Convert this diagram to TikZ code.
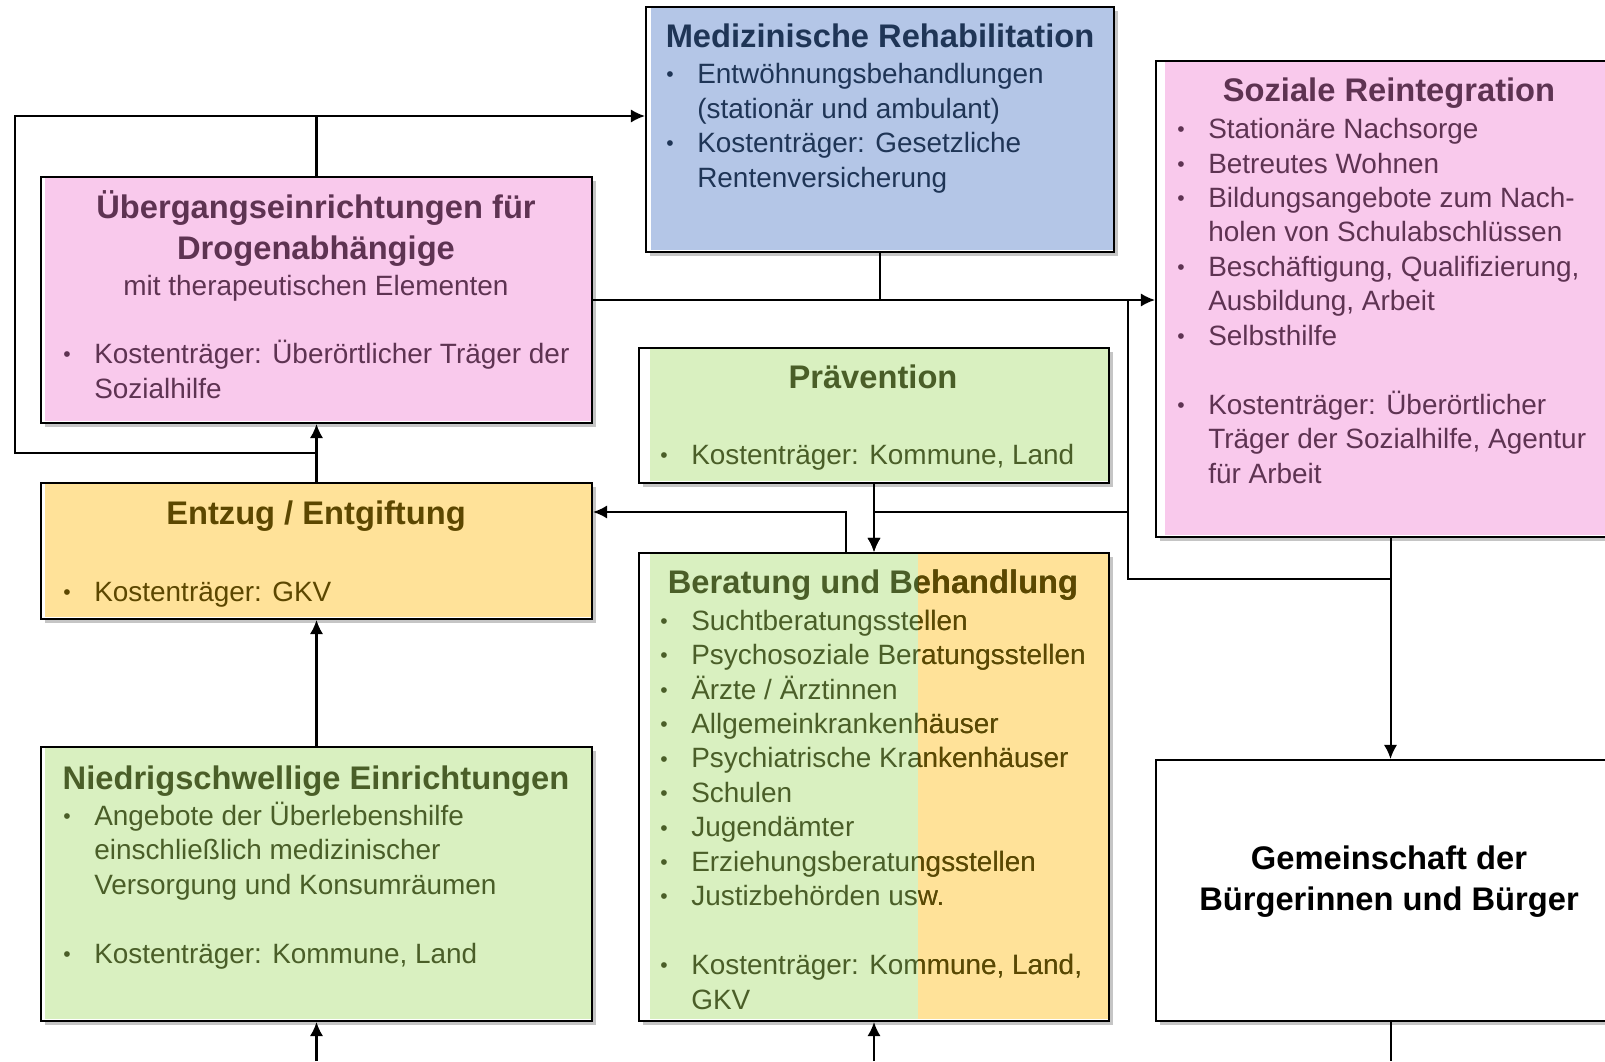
\documentclass[tikz,border=0pt]{standalone}
\usepackage{fontspec}
\setmainfont{Liberation Sans}
\usetikzlibrary{fit,shadows,arrows.meta}
\definecolor{medfill}{HTML}{B4C6E7}
\definecolor{medtxt}{HTML}{1F3556}
\definecolor{pinkfill}{HTML}{F9C9EC}
\definecolor{pinktxt}{HTML}{5E3352}
\definecolor{yelfill}{HTML}{FFE299}
\definecolor{yeltxt}{HTML}{5C4700}
\definecolor{grnfill}{HTML}{D9F0C0}
\definecolor{grntxt}{HTML}{4A5E28}
\newcommand\bul{\makebox[17.6pt][l]{\raisebox{1pt}{\fontsize{12}{12}\selectfont\textbullet}}}
\newcommand\ind{\hspace*{17.6pt}}
\newcommand\berlines{\bul Suchtberatungsstellen\\ \bul Psychosoziale Beratungsstellen\\ \bul Ärzte / Ärztinnen\\ \bul Allgemeinkrankenhäuser\\ \bul Psychiatrische Krankenhäuser\\ \bul Schulen\\ \bul Jugendämter\\ \bul Erziehungsberatungsstellen\\ \bul Justizbehörden usw.\\[19.6pt] \bul Kostenträger: Kommune, Land,\\ \ind GKV}
\tikzset{
  kasten/.style={draw=black,line width=1.1pt,fill=#1,inner sep=0pt,drop shadow={shadow xshift=2.3pt,shadow yshift=-2.3pt,fill=black!45}},
  rand/.style={path picture={\fill[white] (path picture bounding box.south west) rectangle ([xshift=#1]path picture bounding box.north west);
      \fill[white] (path picture bounding box.south west) rectangle ([yshift=1.2pt]path picture bounding box.south east);}},
  titel/.style={anchor=base,align=center,inner sep=0pt,font=\fontsize{18.6}{23.2}\selectfont\bfseries},
  liste/.style={anchor=base west,align=left,inner sep=0pt,font=\fontsize{15.9}{19.6}\selectfont},
  linie/.style={line width=1.15pt},
  pfeil/.style={linie,-{Latex[length=8pt,width=7.5pt]}}
}
\begin{document}
\begin{tikzpicture}[x=0.02cm,y=-0.02cm]
  \fill[white] (0,0) rectangle (1605,1061);
  \useasboundingbox (0,0) rectangle (1605,1061);
  % Kaesten
  \node[kasten=medfill,rand=2.8pt,fit={(646,7) (1114,252)}] (med) {};
  \node[kasten=pinkfill,rand=2.3pt,fit={(41,177) (592,423)}] (ueb) {};
  \node[kasten=pinkfill,rand=5pt,fit={(1156,61) (1625,537)}] (soz) {};
  \node[kasten=grnfill,rand=6.5pt,fit={(639,348) (1109,483)}] (prae) {};
  \node[kasten=yelfill,rand=2.3pt,fit={(41,483) (592,619)}] (entz) {};
  \node[kasten=grnfill,fit={(639,553) (1109,1021)},path picture={\fill[yelfill] ([xshift=5.58cm]path picture bounding box.north west) rectangle (path picture bounding box.south east);
      \fill[white] (path picture bounding box.south west) rectangle ([xshift=6.5pt]path picture bounding box.north west);
      \fill[white] (path picture bounding box.south west) rectangle ([yshift=1.2pt]path picture bounding box.south east);}] (ber) {};
  \node[kasten=grnfill,rand=2.3pt,fit={(41,747) (592,1021)}] (nied) {};
  \node[kasten=white,fit={(1156,760) (1625,1021)}] (gem) {};
  % Texte (base = Grundlinie der letzten Zeile)
  \node[titel,text=medtxt] (medT) at (880,48) {Medizinische Rehabilitation};
  \node[liste,text=medtxt] (medB) at (666,187) {\bul Entwöhnungsbehandlungen\\ \ind (stationär und ambulant)\\ \bul Kostenträger: Gesetzliche\\ \ind Rentenversicherung};
  \node[titel,text=pinktxt] (uebT) at (316,259) {Übergangseinrichtungen für\\Drogenabhängige};
  \node[titel,text=pinktxt,font=\fontsize{15.9}{19.6}\selectfont] (uebS) at (316,295) {mit therapeutischen Elementen};
  \node[liste,text=pinktxt] (uebB) at (63,398) {\bul Kostenträger: Überörtlicher Träger der\\ \ind Sozialhilfe};
  \node[titel,text=pinktxt] (sozT) at (1389,102) {Soziale Reintegration};
  \node[liste,text=pinktxt] (sozB) at (1177,483) {\bul Stationäre Nachsorge\\ \bul Betreutes Wohnen\\ \bul Bildungsangebote zum Nach-\\ \ind holen von Schulabschlüssen\\ \bul Beschäftigung, Qualifizierung,\\ \ind Ausbildung, Arbeit\\ \bul Selbsthilfe\\[19.6pt] \bul Kostenträger: Überörtlicher\\ \ind Träger der Sozialhilfe, Agentur\\ \ind für Arbeit};
  \node[titel,text=grntxt] (praeT) at (873,388) {Prävention};
  \node[liste,text=grntxt] (praeB) at (660,464) {\bul Kostenträger: Kommune, Land};
  \node[titel,text=yeltxt] (entzT) at (316,524) {Entzug / Entgiftung};
  \node[liste,text=yeltxt] (entzB) at (63,601) {\bul Kostenträger: GKV};
  \node[titel,text=grntxt] (berT) at (873,593) {Beratung und Behandlung};
  \node[liste,text=grntxt] (berB) at (660,1009) {\berlines};
  \begin{scope}
    \clip (918,553) rectangle (1109,1021);
    \node[titel,text=yeltxt] (berT2) at (873,593) {Beratung und Behandlung};
    \node[liste,text=yeltxt] (berB2) at (660,1009) {\berlines};
  \end{scope}
  \node[titel,text=grntxt] (niedT) at (316,789) {Niedrigschwellige Einrichtungen};
  \node[liste,text=grntxt] (niedB) at (63,963) {\bul Angebote der Überlebenshilfe\\ \ind einschließlich medizinischer\\ \ind Versorgung und Konsumräumen\\[19.6pt] \bul Kostenträger: Kommune, Land};
  \node[titel,text=black] (gemT) at (1389,910) {Gemeinschaft der\\Bürgerinnen und Bürger};
  % Verbindungen
  \coordinate (lo) at (15,116);
  \coordinate (lu) at (15,453);
  \coordinate (bus) at (1128,300);
  \coordinate (busu) at (1128,579);
  \coordinate (bust) at (1128,512);
  \coordinate (rk) at (846,512);
  \draw[linie] (ueb.north) -- (ueb.north |- lo);
  \draw[pfeil] (entz.north) -- (ueb.south |- lu) -- (lu) -- (lo) -- (med.west |- lo);
  \draw[pfeil] (entz.north) -- (ueb.south);
  \draw[pfeil] (ueb.east) -- (soz.west |- ueb.east);
  \draw[linie] (med.south) -- (med.south |- ueb.east);
  \draw[linie] (bus) -- (busu) -- (soz.south |- busu);
  \draw[pfeil] (soz.south) -- (gem.north);
  \draw[pfeil] (bust) -| (ber.north);
  \draw[pfeil] (prae.south) -- (ber.north);
  \draw[pfeil] (rk |- ber.north) -- (rk) -- (entz.east |- rk);
  \draw[pfeil] (nied.north) -- (entz.south);
  \draw[pfeil] (nied.south |- 0,1061) -- (nied.south);
  \draw[pfeil] (ber.south |- 0,1061) -- (ber.south);
  \draw[linie] (gem.south) -- (gem.south |- 0,1061);
\end{tikzpicture}
\end{document}
